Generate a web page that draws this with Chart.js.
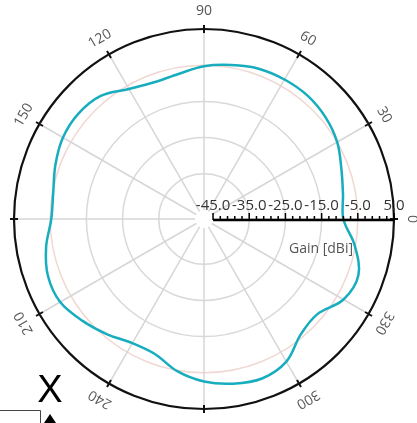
<!DOCTYPE html>
<html>
<head>
<meta charset="utf-8">
<script src="https://cdn.jsdelivr.net/npm/chart.js@4.4.1/dist/chart.umd.min.js"></script>
<style>
    html, body { margin: 0; padding: 0; background: #fff; }
    #wrap { width: 417px; height: 423px; position: relative; }
</style>
</head>
<body>
<div id="wrap"><canvas id="polarChart" width="417" height="423"></canvas></div>
<script>
// azimuth angles (deg, counter-clockwise from the right) and gain
const angleDeg = [0, 10, 20, 30, 40, 50, 60, 70, 80, 90, 100, 110,
    120, 130, 140, 150, 160, 170, 180, 190, 200, 210, 220, 230,
    240, 250, 260, 270, 280, 290, 300, 310, 320, 330, 340, 350];
const gainDbi = [-9.0, -8.5, -7.1, -5.0, -3.7, -3.0, -3.0, -3.3, -4.3, -5.3, -6.8, -7.3,
    -6.0, -3.1, -2.2, -2.5, -3.8, -5.2, -5.3, -3.2, -1.6, -1.6, -3.7, -5.9,
    -7.9, -7.8, -4.8, -2.6, -1.3, -0.6, -2.0, -5.9, -6.6, -3.0, -2.1, -5.2];

const ringValues = [-45, -35, -25, -15, -5, 5];
const gainTickLabels = ['-45.0', '-35.0', '-25.0', '-15.0', '-5.0', '5.0'];
const angleTickLabels = [0, 30, 60, 90, 120, 150, 180, 210, 240, 270, 300, 330];
const gainMin = -47.5;
const gainMax = 5;

// radar goes clockwise, so walk the angles backwards to get counter-clockwise
const order = angleDeg.map((a, i) => (i === 0 ? 0 : angleDeg.length - i));
const labels = order.map(i => angleDeg[i]);
const values = order.map(i => gainDbi[i]);

const indexOfAngle = a => labels.indexOf(a);

const decorations = {
    id: 'decorations',
    afterDatasetsDraw(chart) {
        const ctx = chart.ctx;
        const s = chart.scales.r;
        const cx = s.xCenter;
        const cy = s.yCenter;

        // clear the hub where the spokes meet
        ctx.save();
        ctx.fillStyle = '#fff';
        ctx.beginPath();
        ctx.arc(cx, cy, s.getDistanceFromCenterForValue(-45), 0, Math.PI * 2);
        ctx.fill();

        // outer ticks and rotated angle labels
        const outer = s.getDistanceFromCenterForValue(gainMax);
        ctx.strokeStyle = '#111';
        ctx.lineWidth = 2;
        ctx.fillStyle = '#555';
        ctx.font = '14px "Open Sans", sans-serif';
        ctx.textAlign = 'center';
        ctx.textBaseline = 'middle';
        angleTickLabels.forEach(a => {
            const idx = indexOfAngle(a);
            const p1 = s.getPointPosition(idx, outer - 4);
            const p2 = s.getPointPosition(idx, outer + 4);
            ctx.beginPath();
            ctx.moveTo(p1.x, p1.y);
            ctx.lineTo(p2.x, p2.y);
            ctx.stroke();

            const p = s.getPointPosition(idx, outer + 18);
            ctx.save();
            ctx.translate(p.x, p.y);
            ctx.rotate((90 - a) * Math.PI / 180);
            ctx.fillText(String(a), 0, 0);
            ctx.restore();
        });

        // gain axis along 0 degrees
        const x0 = cx + s.getDistanceFromCenterForValue(-45);
        const x1 = cx + s.getDistanceFromCenterForValue(gainMax);
        const yAxis = cy + 1;
        ctx.strokeStyle = '#000';
        ctx.lineWidth = 2.5;
        ctx.beginPath();
        ctx.moveTo(x0, yAxis);
        ctx.lineTo(x1, yAxis);
        ctx.stroke();
        ctx.lineWidth = 1.5;
        for (let v = -45; v <= gainMax; v += 2) {
            const x = cx + s.getDistanceFromCenterForValue(v);
            const major = (v + 45) % 10 === 0;
            ctx.beginPath();
            ctx.moveTo(x, yAxis);
            ctx.lineTo(x, yAxis - (major ? 7 : 4));
            ctx.stroke();
        }
        ctx.fillStyle = '#333';
        ctx.font = '15px "Open Sans", sans-serif';
        ctx.textBaseline = 'alphabetic';
        ringValues.forEach((v, i) => {
            const x = cx + s.getDistanceFromCenterForValue(v);
            ctx.fillText(gainTickLabels[i], x, yAxis - 10);
        });
        ctx.fillStyle = '#555';
        ctx.font = '14px "Open Sans", sans-serif';
        ctx.fillText('Gain [dBi]', 321, 253);

        // corner marker
        ctx.fillStyle = '#000';
        ctx.font = '38px "Liberation Sans", Arial, sans-serif';
        ctx.textAlign = 'center';
        ctx.fillText('X', 50, 402);
        ctx.beginPath();
        ctx.moveTo(50, 414);
        ctx.lineTo(44, 423);
        ctx.lineTo(56, 423);
        ctx.closePath();
        ctx.fill();
        ctx.strokeStyle = '#444';
        ctx.lineWidth = 1;
        ctx.beginPath();
        ctx.moveTo(0, 410.5);
        ctx.lineTo(40.5, 410.5);
        ctx.lineTo(40.5, 423);
        ctx.stroke();
        ctx.restore();
    }
};

new Chart(document.getElementById('polarChart'), {
    type: 'radar',
    data: {
        labels,
        datasets: [{
            label: 'Gain',
            data: values,
            borderColor: '#17adbe',
            borderWidth: 2.5,
            fill: false,
            tension: 0.35,
            pointRadius: 0,
            pointHoverRadius: 0
        }]
    },
    options: {
        responsive: false,
        animation: false,
        events: [],
        layout: { padding: { left: 14, top: 29, right: 23, bottom: 14 } },
        plugins: {
            legend: { display: false },
            tooltip: { enabled: false }
        },
        scales: {
            r: {
                min: gainMin,
                max: gainMax,
                startAngle: 90,
                afterBuildTicks: scale => {
                    scale.ticks = ringValues.map(v => ({ value: v }));
                },
                ticks: { display: false },
                pointLabels: { display: false },
                grid: {
                    circular: true,
                    color: c => (c.tick.value === gainMax ? '#111' : c.tick.value === -5 ? '#f0d8d3' : '#d9d9d9'),
                    lineWidth: c => (c.tick.value === gainMax ? 2.2 : c.tick.value === -45 ? 0 : 1.5)
                },
                angleLines: {
                    color: '#d6d6d6',
                    lineWidth: c => (c.label % 30 === 0 ? 1.5 : 0)
                }
            }
        }
    },
    plugins: [decorations]
});
</script>
</body>
</html>
